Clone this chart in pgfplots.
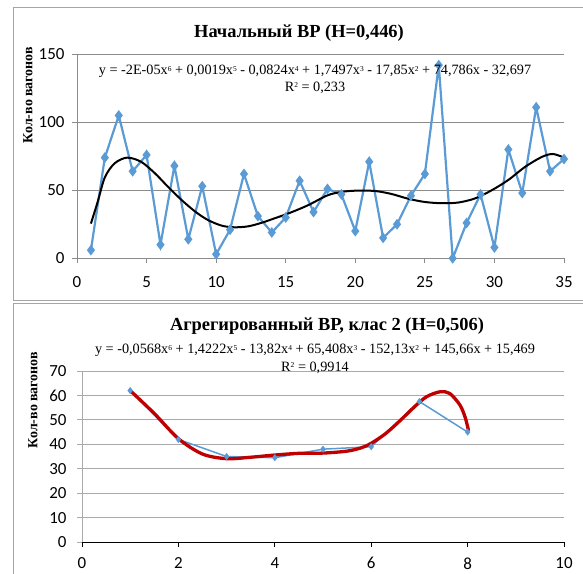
\documentclass[border=0pt]{standalone}
\usepackage{fontspec}
\setmainfont{Liberation Serif}
\newfontfamily\calibri{Carlito}
\usepackage{pgfplots}
\pgfplotsset{compat=1.18}
\definecolor{exblue}{RGB}{91,155,213}
\definecolor{exred}{RGB}{192,0,0}
\definecolor{gridgrayA}{RGB}{140,140,140}
\definecolor{gridgrayB}{RGB}{170,170,170}
\definecolor{framegray}{RGB}{165,165,165}
\newcommand\sq[1]{\raisebox{0.55ex}{\fontsize{7.5}{7.5}\selectfont #1}}
\pgfplotsset{
  exstyle/.style={
    scale only axis,
    axis x line*=bottom, axis y line*=left,
    x axis line style={-}, y axis line style={-},
    tick align=outside, major tick length=5bp,
    ymajorgrids,
    tick label style={font=\calibri\fontsize{17}{17}\selectfont, text=black},
    /pgf/number format/assume math mode=true,
    clip=false,
  }
}
\begin{document}
\begin{tikzpicture}[x=1bp,y=1bp]
\path[use as bounding box] (0,0) rectangle (583,574);
\draw[framegray, line width=1bp] (13,273) rectangle (600,566);
\draw[framegray, line width=1bp] (13,-20) rectangle (600,270);

% ---------- top chart ----------
\begin{axis}[exstyle,
  at={(77bp,315.7bp)}, anchor=south west,
  width=487bp, height=204bp,
  xmin=0, xmax=35, ymin=0, ymax=150,
  xtick={0,5,...,35}, ytick={0,50,100,150},
  xticklabel style={yshift=-10bp},
  yticklabel style={xshift=-4bp},
  grid style={gridgrayA, line width=0.9bp},
  x axis line style={gridgrayA, line width=1bp},
  y axis line style={gridgrayA, line width=1bp},
  every tick/.style={gridgrayA, line width=1bp},
]
\addplot[exblue, line width=2.2bp, mark=diamond*, mark size=3.6bp, mark options={solid, fill=exblue}] coordinates {
(1,6) (2,74) (3,105) (4,64) (5,76) (6,10) (7,68) (8,14) (9,53) (10,3)
(11,21) (12,62) (13,31) (14,19) (15,30) (16,57) (17,34) (18,51) (19,47) (20,20)
(21,71) (22,15) (23,25) (24,46) (25,62) (26,142) (27,0) (28,26) (29,47) (30,8)
(31,80) (32,48) (33,111) (34,64) (35,73)
};
\addplot[black, line width=2bp, smooth] coordinates {
(1,25.5) (1.5,42) (2,59.5) (2.7,69.8) (3.6,74) (4.6,71) (5.6,62.5) (6.5,53)
(7.5,43) (8.5,34.3) (9.4,28.2) (10.4,24) (11.3,22.8) (12.3,23.5) (13.3,26.2)
(14.2,29.4) (15.2,33) (16.6,39) (18,46.3) (19,48.8) (20,49.7) (21.4,49.5)
(22.6,47.3) (23.8,43.8) (25,41.4) (26.2,40.5) (27.4,41) (28.6,44) (29.8,50)
(31,57.6) (32.2,67.2) (33.4,74.5) (34.2,76.7) (35,74)
};
\end{axis}

% ---------- bottom chart ----------
\begin{axis}[exstyle,
  at={(82bp,32bp)}, anchor=south west,
  width=482bp, height=171bp,
  xmin=0, xmax=10, ymin=0, ymax=70,
  xtick={0,2,...,10}, ytick={0,10,...,70},
  xticklabel style={yshift=-7bp},
  yticklabel style={xshift=-7bp},
  grid style={gridgrayB, line width=0.9bp},
  x axis line style={black, line width=1bp},
  y axis line style={gridgrayB, line width=1bp},
  x tick style={black, line width=1bp},
  y tick style={gridgrayB, line width=1bp},
]
\addplot[exblue, line width=1.5bp, mark=diamond*, mark size=2.4bp, mark options={solid, fill=exblue}] coordinates {
(1,62) (2,42) (3,35) (4,34.5) (5,38) (6,39) (7,57.5) (8,45)
};
\addplot[exred, line width=3.3bp, smooth] coordinates {
(1,62) (1.5,52.6) (2,42.3) (2.5,36) (3,34.1) (3.5,34.7) (4,35.6) (4.5,36.3)
(5,36.4) (5.5,37.2) (5.8,38.6) (6,40.4) (6.3,44.4) (6.6,49.7) (6.9,55.4)
(7.15,59.5) (7.43,61.5) (7.63,60.8) (7.84,56.1) (7.95,51) (8.02,45.5)
};
\end{axis}

% ---------- texts ----------
\node[font=\bfseries\fontsize{18.5}{18.5}\selectfont] at (299,541) {Начальный ВР (H=0,446)};
\node[font=\fontsize{14.3}{14.3}\selectfont, inner sep=0pt] at (315,502.5) {y = -2E-05x\sq{6} + 0,0019x\sq{5} - 0,0824x\sq{4} + 1,7497x\sq{3} - 17,85x\sq{2} + 74,786x - 32,697};
\node[font=\fontsize{14.3}{14.3}\selectfont, inner sep=0pt] at (315,486.5) {R\sq{2} = 0,233};
\node[rotate=90, font=\bfseries\fontsize{14}{14}\selectfont] at (28,479) {Кол-во вагонов};

\node[font=\bfseries\fontsize{18.5}{18.5}\selectfont] at (327,248) {Агрегированный ВР, клас 2 (H=0,506)};
\node[font=\fontsize{14.3}{14.3}\selectfont, inner sep=0pt] at (315,223.5) {y = -0,0568x\sq{6} + 1,4222x\sq{5} - 13,82x\sq{4} + 65,408x\sq{3} - 152,13x\sq{2} + 145,66x + 15,469};
\node[font=\fontsize{14.3}{14.3}\selectfont, inner sep=0pt] at (315,206.5) {R\sq{2} = 0,9914};
\node[rotate=90, font=\bfseries\fontsize{14}{14}\selectfont] at (33,174) {Кол-во вагонов};
\end{tikzpicture}
\end{document}
